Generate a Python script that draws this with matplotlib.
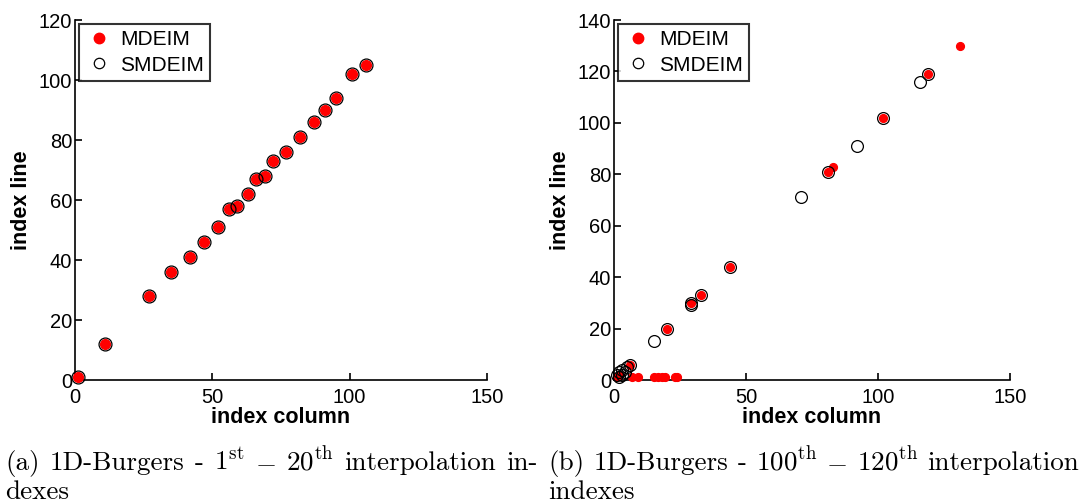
import numpy as np
import matplotlib
matplotlib.use("Agg")
import matplotlib.pyplot as plt

plt.rcParams['font.family'] = ['Liberation Sans', 'DejaVu Sans']
plt.rcParams['mathtext.fontset'] = 'cm'

# (a) 1st - 20th interpolation indexes
a_md_col = [1, 11, 27, 35, 42, 47, 52, 56, 59, 63, 66, 69, 72, 77, 82, 87, 91, 95, 101, 106]
a_md_row = [1, 12, 28, 36, 41, 46, 51, 57, 58, 62, 67, 68, 73, 76, 81, 86, 90, 94, 102, 105]
a_smd_col = a_md_col
a_smd_row = a_md_row

# (b) 100th - 120th interpolation indexes
b_md_col = [131, 119, 102, 83, 81, 44, 33, 29, 20, 6, 7, 9, 15, 16.5, 18, 19.5, 23, 24, 1, 2]
b_md_row = [130, 119, 102, 83, 81, 44, 33, 30, 20, 6, 1, 1, 1, 1, 1, 1, 1, 1, 1, 2]
b_smd_col = [119, 116, 102, 92, 81, 71, 44, 33, 29, 29, 20, 15, 6, 5, 3, 2, 1, 2, 3, 4]
b_smd_row = [119, 116, 102, 91, 81, 71, 44, 33, 30, 29, 20, 15, 6, 5, 4, 3, 2, 1, 2, 3]

cap_a = [r'(a)', r'1D-Burgers', r'-', r'$1^{\mathrm{st}}$', r'$-$', r'$20^{\mathrm{th}}$', r'interpolation', r'in-']
cap_b = [r'(b)', r'1D-Burgers', r'-', r'$100^{\mathrm{th}}$', r'$-$', r'$120^{\mathrm{th}}$', r'interpolation']

W, H = 1085, 504
fig = plt.figure(figsize=(10.85, 5.04), dpi=100)
ax1 = fig.add_axes([75/W, 124/H, 412/W, 360/H])
ax2 = fig.add_axes([614/W, 124/H, 396/W, 360/H])


def style(ax, ymax, yticks):
    ax.set_xlim(0, 150)
    ax.set_ylim(0, ymax)
    ax.set_xticks([0, 50, 100, 150])
    ax.set_yticks(yticks)
    for s in ['top', 'right']:
        ax.spines[s].set_visible(False)
    for s in ['left', 'bottom']:
        ax.spines[s].set_linewidth(1.2)
    ax.tick_params(direction='in', length=5, width=1.2, labelsize=14.5)
    ax.tick_params(axis='x', pad=6)
    ax.tick_params(axis='y', pad=2)
    ax.set_xlabel('index column', fontsize=15.5, fontweight='bold', labelpad=0)
    ax.set_ylabel('index line', fontsize=15.5, fontweight='bold', labelpad=5)


ax1.plot(a_md_col, a_md_row, 'o', color='red', ms=7, mec='red', label='MDEIM', clip_on=False, zorder=3)
ax1.plot(a_smd_col, a_smd_row, 'o', mfc='none', mec='black', ms=9.3, mew=0.9, label='SMDEIM', clip_on=False, zorder=4)
style(ax1, 120, [0, 20, 40, 60, 80, 100, 120])

ax2.plot(b_md_col, b_md_row, 'o', color='red', ms=5.6, mec='red', label='MDEIM', clip_on=False, zorder=3)
ax2.plot(b_smd_col, b_smd_row, 'o', mfc='none', mec='black', ms=8.5, mew=0.9, label='SMDEIM', clip_on=False, zorder=4)
style(ax2, 140, [0, 20, 40, 60, 80, 100, 120, 140])

for ax in (ax1, ax2):
    leg = ax.legend(loc='upper left', bbox_to_anchor=(0.01, 0.99), fontsize=15,
                    frameon=True, fancybox=False, borderpad=0.3, handletextpad=0.38,
                    labelspacing=0.32, handlelength=1.3, borderaxespad=0)
    leg.get_frame().set_edgecolor('black')
    leg.get_frame().set_linewidth(1.5)
    for h in leg.legend_handles:
        h.set_markersize(7.5)

# captions, justified between two x positions like the LaTeX source
cap = dict(fontsize=19.5, family='cmr10', va='baseline', ha='left')
renderer = fig.canvas.get_renderer()


def justify(words, x0, x1, ybase):
    texts = [fig.text(0, 1 - ybase/H, w, **cap) for w in words]
    widths = [t.get_window_extent(renderer).width for t in texts]
    gap = (x1 - x0 - sum(widths)) / (len(words) - 1)
    x = x0
    for t, w in zip(texts, widths):
        t.set_x(x / W)
        x += w + gap


justify(cap_a, 5, 538, 470)
fig.text(5/W, 1 - 499/H, 'dexes', **cap)
justify(cap_b, 548, 1079, 470)
fig.text(548/W, 1 - 499/H, 'indexes', **cap)

fig.savefig('out.png', dpi=100)
